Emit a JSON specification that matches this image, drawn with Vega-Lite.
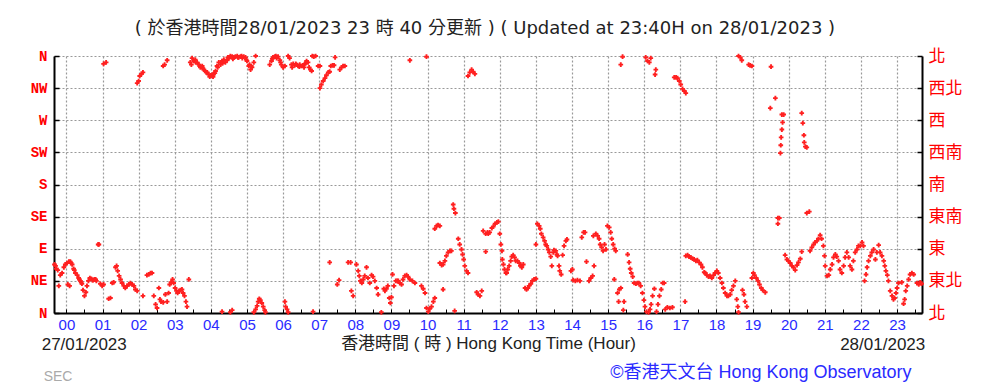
{
  "$schema": "https://vega.github.io/schema/vega-lite/v6.json",
  "width": 868,
  "height": 257,
  "autosize": {"type": "none"},
  "padding": {"left": 54, "top": 56, "right": 61, "bottom": 75},
  "background": "white",
  "config": {"view": {"stroke": null}, "font": "Liberation Sans, Noto Sans CJK TC", "axis": {"labelOverlap": false, "labelFlush": false}, "axisX": {"labelOverlap": false}, "axisQuantitative": {"labelOverlap": false}},
  "title": {
    "text": "( 於香港時間28/01/2023 23 時 40 分更新 ) ( Updated at 23:40H on 28/01/2023 )",
    "anchor": "middle", "fontSize": 18, "fontWeight": "normal", "color": "#222222",
    "font": "DejaVu Sans, Noto Sans CJK TC", "offset": 9, "dx": -3
  },
  "datasets": {
    "wind": [
      {"h":-0.33,"d":68},{"h":-0.30,"d":66},{"h":-0.28,"d":62},{"h":-0.24,"d":60},{"h":-0.21,"d":38},{"h":-0.17,"d":53},{"h":-0.12,"d":56},{"h":-0.07,"d":64},{"h":-0.03,"d":68},{"h":0.02,"d":70},{"h":0.04,"d":40},{"h":0.07,"d":72},{"h":0.09,"d":38},{"h":0.11,"d":72},{"h":0.13,"d":70},{"h":0.16,"d":68},{"h":0.20,"d":62},{"h":0.22,"d":60},{"h":0.25,"d":56},{"h":0.30,"d":53},{"h":0.34,"d":49},{"h":0.36,"d":47},{"h":0.39,"d":45},{"h":0.41,"d":43},{"h":0.43,"d":41},{"h":0.46,"d":32},{"h":0.50,"d":24},{"h":0.54,"d":29},{"h":0.57,"d":38},{"h":0.61,"d":45},{"h":0.65,"d":49},{"h":0.69,"d":48},{"h":0.72,"d":46},{"h":0.74,"d":46},{"h":0.78,"d":47},{"h":0.81,"d":47},{"h":0.83,"d":45},{"h":0.88,"d":96},{"h":0.90,"d":96},{"h":0.94,"d":41},{"h":0.99,"d":38},{"h":1.03,"d":40},
      {"h":1.17,"d":20},{"h":1.22,"d":21},{"h":1.27,"d":42},{"h":1.31,"d":43},{"h":1.36,"d":64},{"h":1.39,"d":66},{"h":1.42,"d":59},{"h":1.46,"d":52},{"h":1.50,"d":47},{"h":1.54,"d":42},{"h":1.59,"d":38},{"h":1.63,"d":35},{"h":1.68,"d":38},{"h":1.73,"d":40},{"h":1.77,"d":42},{"h":1.82,"d":40},{"h":1.87,"d":38},{"h":1.91,"d":33},{"h":1.96,"d":31},
      {"h":2.12,"d":24},{"h":2.23,"d":53},{"h":2.28,"d":54},{"h":2.33,"d":56},{"h":2.37,"d":56},{"h":2.42,"d":24},{"h":2.47,"d":12},{"h":2.51,"d":7},{"h":2.56,"d":35},{"h":2.59,"d":19},{"h":2.62,"d":16},{"h":2.68,"d":15},{"h":2.74,"d":26},{"h":2.79,"d":16},{"h":2.83,"d":28},{"h":2.86,"d":40},{"h":2.90,"d":43},{"h":2.94,"d":47},{"h":2.97,"d":42},{"h":3.01,"d":35},{"h":3.05,"d":31},{"h":3.08,"d":28},{"h":3.12,"d":31},{"h":3.16,"d":32},{"h":3.20,"d":33},{"h":3.23,"d":28},{"h":3.27,"d":24},{"h":3.31,"d":16},{"h":3.34,"d":9},{"h":3.39,"d":47},
      {"h":1.03,"d":349},{"h":1.10,"d":351},{"h":1.96,"d":322},{"h":2.00,"d":325},{"h":2.03,"d":332},{"h":2.08,"d":335},{"h":2.12,"d":337},{"h":2.68,"d":346},{"h":2.72,"d":348},{"h":2.79,"d":354},
      {"h":3.43,"d":351},{"h":3.46,"d":348},{"h":3.48,"d":357},{"h":3.53,"d":353},{"h":3.57,"d":355},{"h":3.58,"d":351},{"h":3.62,"d":351},{"h":3.67,"d":348},{"h":3.69,"d":346},{"h":3.71,"d":344},{"h":3.76,"d":346},{"h":3.78,"d":343},{"h":3.80,"d":341},{"h":3.85,"d":339},{"h":3.87,"d":337},{"h":3.90,"d":337},{"h":3.94,"d":334},{"h":3.97,"d":331},{"h":3.99,"d":333},{"h":4.04,"d":334},{"h":4.06,"d":331},{"h":4.08,"d":335},{"h":4.11,"d":336},{"h":4.13,"d":339},{"h":4.17,"d":346},{"h":4.19,"d":344},{"h":4.22,"d":351},{"h":4.27,"d":348},{"h":4.31,"d":353},{"h":4.33,"d":350},{"h":4.36,"d":355},{"h":4.40,"d":351},{"h":4.45,"d":354},{"h":4.47,"d":358},{"h":4.50,"d":357},{"h":4.54,"d":360},{"h":4.59,"d":359},{"h":4.61,"d":356},{"h":4.64,"d":358},{"h":4.68,"d":359},{"h":4.73,"d":360},{"h":4.75,"d":358},{"h":4.77,"d":358},{"h":4.82,"d":359},{"h":4.85,"d":360},{"h":4.87,"d":357},{"h":4.91,"d":359},{"h":4.96,"d":358},{"h":4.98,"d":355},{"h":5.00,"d":353},{"h":5.05,"d":346},{"h":5.07,"d":348},{"h":5.10,"d":341},{"h":5.12,"d":346},{"h":5.14,"d":344},{"h":5.19,"d":351},{"h":5.24,"d":360},
      {"h":4.31,"d":2},{"h":4.54,"d":1},{"h":4.59,"d":4},{"h":5.19,"d":1},{"h":5.24,"d":5},{"h":5.28,"d":10},{"h":5.31,"d":16},{"h":5.34,"d":20},{"h":5.37,"d":18},{"h":5.41,"d":14},{"h":5.45,"d":9},{"h":5.49,"d":4},{"h":5.51,"d":1},
      {"h":5.63,"d":348},{"h":5.68,"d":353},{"h":5.70,"d":356},{"h":5.72,"d":358},{"h":5.77,"d":359},{"h":5.80,"d":360},{"h":5.82,"d":357},{"h":5.86,"d":359},{"h":5.91,"d":354},{"h":5.93,"d":351},{"h":5.95,"d":348},{"h":6.00,"d":344},{"h":6.05,"d":346},{"h":6.14,"d":360},{"h":6.18,"d":357},{"h":6.23,"d":348},{"h":6.25,"d":344},{"h":6.28,"d":349},{"h":6.32,"d":347},{"h":6.35,"d":349},{"h":6.37,"d":348},{"h":6.42,"d":346},{"h":6.45,"d":345},{"h":6.46,"d":348},{"h":6.51,"d":346},{"h":6.55,"d":347},{"h":6.58,"d":344},{"h":6.60,"d":349},{"h":6.63,"d":350},{"h":6.65,"d":353},{"h":6.69,"d":351},{"h":6.72,"d":344},{"h":6.76,"d":341},{"h":6.79,"d":339},{"h":6.81,"d":360},{"h":6.85,"d":359},{"h":6.90,"d":360},{"h":6.97,"d":346},{"h":7.02,"d":346},
      {"h":7.02,"d":315},{"h":7.06,"d":320},{"h":7.11,"d":325},{"h":7.16,"d":329},{"h":7.20,"d":333},{"h":7.25,"d":337},{"h":7.29,"d":338},{"h":7.32,"d":346},{"h":7.37,"d":347},{"h":7.41,"d":347},{"h":7.44,"d":358},{"h":7.57,"d":341},{"h":7.62,"d":344},{"h":7.66,"d":346},{"h":7.71,"d":346},{"h":9.51,"d":354},{"h":9.97,"d":359},{"h":11.12,"d":332},{"h":11.17,"d":337},{"h":11.22,"d":341},{"h":11.26,"d":338},{"h":11.31,"d":335},
      {"h":6.05,"d":16},{"h":6.07,"d":9},{"h":6.11,"d":5},{"h":6.14,"d":1},{"h":6.83,"d":2},{"h":7.29,"d":71},{"h":7.50,"d":40},{"h":7.55,"d":46},{"h":7.80,"d":71},{"h":7.87,"d":71},{"h":7.89,"d":31},{"h":7.94,"d":24},{"h":8.03,"d":68},{"h":8.08,"d":59},{"h":8.11,"d":52},{"h":8.14,"d":45},{"h":8.18,"d":42},{"h":8.22,"d":47},{"h":8.26,"d":52},{"h":8.31,"d":64},{"h":8.35,"d":49},{"h":8.40,"d":42},{"h":8.45,"d":53},{"h":8.49,"d":51},{"h":8.54,"d":45},{"h":8.59,"d":35},{"h":8.63,"d":26},{"h":8.72,"d":1},{"h":8.79,"d":34},{"h":8.82,"d":31},{"h":8.86,"d":34},{"h":8.90,"d":38},{"h":8.94,"d":21},{"h":8.97,"d":14},{"h":9.00,"d":22},{"h":9.03,"d":54},{"h":9.07,"d":38},{"h":9.12,"d":45},{"h":9.16,"d":45},{"h":9.19,"d":45},{"h":9.23,"d":42},{"h":9.28,"d":40},{"h":9.32,"d":47},{"h":9.37,"d":52},{"h":9.42,"d":53},{"h":9.46,"d":51},{"h":9.51,"d":47},{"h":9.58,"d":45},{"h":9.65,"d":42},{"h":9.83,"d":38},{"h":9.88,"d":34},{"h":9.93,"d":28},{"h":9.97,"d":7},{"h":10.02,"d":2},{"h":10.06,"d":6},{"h":10.11,"d":9},{"h":10.16,"d":16},{"h":10.20,"d":21},{"h":10.43,"d":33},{"h":10.75,"d":3},
      {"h":10.20,"d":118},{"h":10.25,"d":122},{"h":10.29,"d":123},{"h":10.34,"d":122},{"h":10.34,"d":70},{"h":10.39,"d":67},{"h":10.43,"d":68},{"h":10.48,"d":73},{"h":10.52,"d":80},{"h":10.57,"d":85},{"h":10.62,"d":87},{"h":10.66,"d":87},{"h":10.71,"d":152},{"h":10.73,"d":146},{"h":10.77,"d":140},{"h":10.85,"d":104},{"h":10.89,"d":96},{"h":10.94,"d":89},{"h":10.97,"d":82},{"h":11.00,"d":75},{"h":11.03,"d":66},{"h":11.08,"d":59},{"h":11.12,"d":56},{"h":11.36,"d":29},{"h":11.40,"d":26},{"h":11.45,"d":24},{"h":11.50,"d":31},{"h":11.54,"d":115},{"h":11.61,"d":111},{"h":11.68,"d":111},{"h":11.61,"d":86},
      {"h":11.66,"d":113},{"h":11.72,"d":113},{"h":11.78,"d":119},{"h":11.82,"d":121},{"h":11.87,"d":125},{"h":11.92,"d":127},{"h":11.96,"d":128},{"h":12.00,"d":111},{"h":12.03,"d":96},{"h":12.06,"d":87},{"h":12.07,"d":75},{"h":12.10,"d":68},{"h":12.13,"d":61},{"h":12.17,"d":56},{"h":12.19,"d":56},{"h":12.22,"d":61},{"h":12.26,"d":66},{"h":12.30,"d":73},{"h":12.33,"d":79},{"h":12.37,"d":81},{"h":12.41,"d":78},{"h":12.44,"d":73},{"h":12.49,"d":73},{"h":12.54,"d":70},{"h":12.57,"d":66},{"h":12.61,"d":64},{"h":12.65,"d":68},
      {"h":12.70,"d":35},{"h":12.74,"d":33},{"h":12.78,"d":35},{"h":12.81,"d":38},{"h":12.86,"d":41},{"h":12.90,"d":45},{"h":12.95,"d":47},{"h":13.00,"d":48},{"h":13.00,"d":96},
      {"h":13.04,"d":125},{"h":13.09,"d":122},{"h":13.12,"d":118},{"h":13.15,"d":111},{"h":13.20,"d":106},{"h":13.24,"d":101},{"h":13.27,"d":96},{"h":13.30,"d":94},{"h":13.34,"d":89},{"h":13.37,"d":85},{"h":13.41,"d":79},{"h":13.44,"d":66},{"h":13.48,"d":85},{"h":13.50,"d":88},{"h":13.55,"d":87},{"h":13.58,"d":82},{"h":13.60,"d":80},{"h":13.64,"d":66},{"h":13.66,"d":59},{"h":13.70,"d":54},{"h":13.74,"d":81},{"h":13.78,"d":94},{"h":13.83,"d":101},{"h":13.86,"d":103},
      {"h":13.97,"d":59},{"h":14.01,"d":61},{"h":14.03,"d":46},{"h":14.09,"d":45},{"h":14.15,"d":46},{"h":14.22,"d":45},{"h":14.27,"d":106},{"h":14.32,"d":113},{"h":14.36,"d":113},{"h":14.40,"d":72},{"h":14.47,"d":45},{"h":14.52,"d":49},{"h":14.57,"d":52},{"h":14.61,"d":66},
      {"h":14.59,"d":108},{"h":14.66,"d":111},{"h":14.71,"d":108},{"h":14.75,"d":104},{"h":14.78,"d":96},{"h":14.82,"d":92},{"h":14.86,"d":87},{"h":14.90,"d":96},{"h":14.94,"d":89},{"h":14.98,"d":122},{"h":15.03,"d":120},{"h":15.07,"d":113},{"h":15.10,"d":104},{"h":15.14,"d":96},{"h":15.18,"d":90},{"h":15.21,"d":87},
      {"h":15.17,"d":47},{"h":15.26,"d":28},{"h":15.31,"d":33},{"h":15.35,"d":35},{"h":15.29,"d":16},{"h":15.44,"d":16},{"h":15.42,"d":4},{"h":15.35,"d":348},{"h":15.40,"d":359},
      {"h":15.54,"d":82},{"h":15.58,"d":71},{"h":15.61,"d":62},{"h":15.64,"d":56},{"h":15.68,"d":51},{"h":15.72,"d":42},{"h":15.77,"d":41},{"h":15.81,"d":42},{"h":15.85,"d":42},{"h":15.90,"d":38},{"h":15.95,"d":28},{"h":15.99,"d":18},{"h":16.02,"d":9},{"h":16.06,"d":2},
      {"h":16.04,"d":358},{"h":16.09,"d":353},{"h":16.14,"d":351},{"h":16.18,"d":357},{"h":16.32,"d":341},{"h":16.30,"d":334},
      {"h":16.12,"d":1},{"h":16.16,"d":5},{"h":16.19,"d":12},{"h":16.23,"d":24},{"h":16.28,"d":34},{"h":16.34,"d":2},{"h":16.38,"d":12},{"h":16.42,"d":24},{"h":16.47,"d":33},{"h":16.51,"d":42},{"h":16.55,"d":42},{"h":16.58,"d":5},{"h":16.64,"d":8},{"h":16.71,"d":7},{"h":16.78,"d":8},
      {"h":16.83,"d":330},{"h":16.88,"d":330},{"h":16.92,"d":329},{"h":16.97,"d":325},{"h":17.01,"d":320},{"h":17.06,"d":314},{"h":17.11,"d":311},{"h":17.15,"d":308},
      {"h":17.13,"d":16},{"h":17.15,"d":80},{"h":17.20,"d":81},{"h":17.24,"d":79},{"h":17.29,"d":78},{"h":17.34,"d":76},{"h":17.38,"d":75},{"h":17.43,"d":73},{"h":17.47,"d":74},{"h":17.52,"d":71},{"h":17.57,"d":68},{"h":17.61,"d":64},{"h":17.66,"d":57},
      {"h":17.69,"d":56},{"h":17.73,"d":53},{"h":17.78,"d":51},{"h":17.82,"d":52},{"h":17.87,"d":49},{"h":17.92,"d":53},{"h":17.96,"d":56},{"h":18.01,"d":59},{"h":18.05,"d":56},{"h":18.10,"d":49},{"h":18.15,"d":42},{"h":18.19,"d":35},{"h":18.24,"d":28},{"h":18.29,"d":24},{"h":18.33,"d":24},{"h":18.38,"d":26},{"h":18.42,"d":32},{"h":18.47,"d":38},{"h":18.52,"d":45},
      {"h":18.56,"d":19},{"h":18.59,"d":9},{"h":18.61,"d":1},{"h":18.72,"d":32},{"h":18.76,"d":26},{"h":18.79,"d":16},{"h":18.84,"d":9},
      {"h":18.61,"d":360},{"h":18.66,"d":358},{"h":18.70,"d":354},{"h":18.89,"d":348},{"h":18.93,"d":347},{"h":18.98,"d":346},{"h":19.51,"d":345},{"h":19.63,"d":301},{"h":19.49,"d":287},{"h":19.81,"d":278},{"h":19.86,"d":278},{"h":19.83,"d":267},{"h":19.81,"d":257},{"h":19.79,"d":246},{"h":19.78,"d":235},{"h":19.77,"d":224},{"h":20.36,"d":280},{"h":20.39,"d":266},{"h":20.42,"d":249},{"h":20.43,"d":239},{"h":20.46,"d":233},{"h":20.50,"d":232},{"h":19.70,"d":133},{"h":19.74,"d":133},{"h":19.70,"d":125},{"h":20.50,"d":140},{"h":20.57,"d":142},
      {"h":18.98,"d":49},{"h":19.02,"d":56},{"h":19.05,"d":53},{"h":19.10,"d":49},{"h":19.15,"d":45},{"h":19.19,"d":40},{"h":19.24,"d":35},{"h":19.28,"d":32},{"h":19.35,"d":29},
      {"h":19.90,"d":81},{"h":19.95,"d":75},{"h":19.99,"d":73},{"h":20.04,"d":70},{"h":20.09,"d":66},{"h":20.13,"d":64},{"h":20.18,"d":60},{"h":20.23,"d":67},{"h":20.27,"d":71},{"h":20.32,"d":76},{"h":20.36,"d":86},
      {"h":20.59,"d":87},{"h":20.64,"d":92},{"h":20.69,"d":96},{"h":20.73,"d":99},{"h":20.78,"d":101},{"h":20.82,"d":104},{"h":20.87,"d":109},{"h":20.91,"d":104},{"h":20.96,"d":94},{"h":20.99,"d":80},{"h":21.01,"d":66},
      {"h":21.06,"d":52},{"h":21.11,"d":53},{"h":21.15,"d":61},{"h":21.20,"d":68},{"h":21.24,"d":78},{"h":21.29,"d":82},{"h":21.33,"d":79},{"h":21.38,"d":73},{"h":21.42,"d":61},{"h":21.47,"d":56},{"h":21.52,"d":66},{"h":21.56,"d":78},{"h":21.61,"d":85},{"h":21.66,"d":78},{"h":21.70,"d":66},{"h":21.75,"d":61},{"h":21.79,"d":73},{"h":21.84,"d":85},{"h":21.89,"d":89},{"h":21.93,"d":94},{"h":21.98,"d":94},{"h":22.03,"d":99},{"h":22.07,"d":94},
      {"h":22.10,"d":45},{"h":22.14,"d":54},{"h":22.17,"d":64},{"h":22.21,"d":73},{"h":22.26,"d":80},{"h":22.30,"d":85},{"h":22.35,"d":89},{"h":22.40,"d":75},{"h":22.44,"d":85},{"h":22.49,"d":95},{"h":22.53,"d":85},{"h":22.58,"d":80},{"h":22.63,"d":73},{"h":22.66,"d":66},{"h":22.69,"d":59},{"h":22.73,"d":53},{"h":22.76,"d":45},
      {"h":22.81,"d":31},{"h":22.86,"d":24},{"h":22.90,"d":19},{"h":22.93,"d":21},{"h":22.97,"d":28},{"h":23.00,"d":35},{"h":23.04,"d":42},{"h":23.13,"d":43},{"h":23.18,"d":13},{"h":23.21,"d":19},{"h":23.24,"d":31},{"h":23.28,"d":38},{"h":23.32,"d":47},{"h":23.36,"d":54},{"h":23.41,"d":56},{"h":23.46,"d":54},{"h":23.55,"d":42},{"h":23.60,"d":40},{"h":23.64,"d":43},{"h":23.68,"d":41}
    ],
    "notes": [
      {"h": -0.684, "d": -44.3, "label": "27/01/2023", "kind": "dateL"},
      {"h": 23.78, "d": -44.3, "label": "28/01/2023", "kind": "dateR"},
      {"h": -0.63, "d": -89.1, "label": "SEC", "kind": "sec"},
      {"h": 23.40, "d": -83.5, "label": "©香港天文台 Hong Kong Observatory", "kind": "copy"}
    ]
  },
  "layer": [
    {
      "data": {"name": "wind"},
      "mark": {"type": "point", "shape": "cross", "filled": true, "size": 22, "color": "#ff2020", "opacity": 1},
      "encoding": {
        "x": {
          "field": "h", "type": "quantitative",
          "scale": {"domain": [-0.343, 23.69], "nice": false, "zero": false},
          "axis": {
            "values": [0,0.5,1,1.5,2,2.5,3,3.5,4,4.5,5,5.5,6,6.5,7,7.5,8,8.5,9,9.5,10,10.5,11,11.5,12,12.5,13,13.5,14,14.5,15,15.5,16,16.5,17,17.5,18,18.5,19,19.5,20,20.5,21,21.5,22,22.5,23,23.5],
            "labelExpr": "datum.value % 1 === 0 ? (datum.value < 10 ? '0' + datum.value : '' + datum.value) : ''",
            "labelColor": "#2a2aff", "labelFontSize": 15, "labelFont": "Liberation Sans",
            "labelFlush": false, "labelOverlap": false, "labelPadding": 8, "labelSeparation": 0, "labelDx": -2, "labelBound": false,
            "tickSize": -4, "tickColor": "black", "tickWidth": 1,
            "domainColor": "black", "domainWidth": 2,
            "grid": true, "gridColor": "#999999", "gridDash": [2, 2], "gridWidth": 1.2,
            "gridOpacity": {"condition": {"test": "datum.value % 1 !== 0", "value": 0}, "value": 1},
            "title": "香港時間 ( 時 ) Hong Kong Time (Hour)",
            "titleFont": "Liberation Sans, Noto Sans CJK TC", "titleFontSize": 17, "titleFontWeight": "normal",
            "titleColor": "#222222", "titlePadding": 3
          }
        },
        "y": {
          "field": "d", "type": "quantitative",
          "scale": {"domain": [0, 360], "nice": false, "zero": false},
          "axis": {
            "values": [0,45,90,135,180,225,270,315,360],
            "labelExpr": "['N','NE','E','SE','S','SW','W','NW','N'][round(datum.value/45)]",
            "labelColor": "#ff0000", "labelFont": "Liberation Mono", "labelFontSize": 14, "labelFontWeight": "bold",
            "labelFlush": false, "labelOverlap": false, "labelPadding": 12,
            "tickSize": -5, "tickColor": "black", "tickWidth": 1.5,
            "domainColor": "black", "domainWidth": 2,
            "grid": true, "gridColor": "#999999", "gridDash": [2, 2], "gridWidth": 1.2,
            "title": null
          }
        }
      }
    },
    {
      "data": {"name": "notes"},
      "transform": [{"filter": "datum.kind === 'dateL'"}],
      "mark": {"type": "text", "align": "left", "baseline": "middle", "fontSize": 17, "color": "#222222", "font": "Liberation Sans, Noto Sans CJK TC"},
      "encoding": {
        "x": {
          "field": "h", "type": "quantitative",
          "scale": {"domain": [-0.343, 23.69], "nice": false, "zero": false},
          "axis": {
            "values": [0,0.5,1,1.5,2,2.5,3,3.5,4,4.5,5,5.5,6,6.5,7,7.5,8,8.5,9,9.5,10,10.5,11,11.5,12,12.5,13,13.5,14,14.5,15,15.5,16,16.5,17,17.5,18,18.5,19,19.5,20,20.5,21,21.5,22,22.5,23,23.5],
            "labelExpr": "datum.value % 1 === 0 ? (datum.value < 10 ? '0' + datum.value : '' + datum.value) : ''",
            "labelColor": "#2a2aff", "labelFontSize": 15, "labelFont": "Liberation Sans",
            "labelFlush": false, "labelOverlap": false, "labelPadding": 8, "labelSeparation": 0, "labelDx": -2, "labelBound": false,
            "tickSize": -4, "tickColor": "black", "tickWidth": 1,
            "domainColor": "black", "domainWidth": 2,
            "grid": true, "gridColor": "#999999", "gridDash": [2, 2], "gridWidth": 1.2,
            "gridOpacity": {"condition": {"test": "datum.value % 1 !== 0", "value": 0}, "value": 1},
            "title": "香港時間 ( 時 ) Hong Kong Time (Hour)",
            "titleFont": "Liberation Sans, Noto Sans CJK TC", "titleFontSize": 17, "titleFontWeight": "normal",
            "titleColor": "#222222", "titlePadding": 3
          }
        },
        "y": {
          "field": "d", "type": "quantitative",
          "scale": {"domain": [0, 360], "nice": false, "zero": false},
          "axis": {
            "orient": "right",
            "values": [0,45,90,135,180,225,270,315,360],
            "labelExpr": "['北','東北','東','東南','南','西南','西','西北','北'][round(datum.value/45)]",
            "labelColor": "#ff0000", "labelFont": "Noto Sans CJK TC", "labelFontSize": 17,
            "labelFlush": false, "labelOverlap": false, "labelPadding": 11,
            "tickSize": -5, "tickColor": "black", "tickWidth": 1.5,
            "domainColor": "black", "domainWidth": 2, "grid": false, "title": null
          }
        },
        "text": {"field": "label"}
      }
    },
    {
      "data": {"name": "notes"},
      "transform": [{"filter": "datum.kind === 'dateR'"}],
      "mark": {"type": "text", "align": "right", "baseline": "middle", "fontSize": 17, "color": "#222222", "font": "Liberation Sans, Noto Sans CJK TC"},
      "encoding": {
        "x": {
          "field": "h", "type": "quantitative",
          "scale": {"domain": [-0.343, 23.69], "nice": false, "zero": false},
          "axis": {
            "values": [0,0.5,1,1.5,2,2.5,3,3.5,4,4.5,5,5.5,6,6.5,7,7.5,8,8.5,9,9.5,10,10.5,11,11.5,12,12.5,13,13.5,14,14.5,15,15.5,16,16.5,17,17.5,18,18.5,19,19.5,20,20.5,21,21.5,22,22.5,23,23.5],
            "labelExpr": "datum.value % 1 === 0 ? (datum.value < 10 ? '0' + datum.value : '' + datum.value) : ''",
            "labelColor": "#2a2aff", "labelFontSize": 15, "labelFont": "Liberation Sans",
            "labelFlush": false, "labelOverlap": false, "labelPadding": 8, "labelSeparation": 0, "labelDx": -2, "labelBound": false,
            "tickSize": -4, "tickColor": "black", "tickWidth": 1,
            "domainColor": "black", "domainWidth": 2,
            "grid": true, "gridColor": "#999999", "gridDash": [2, 2], "gridWidth": 1.2,
            "gridOpacity": {"condition": {"test": "datum.value % 1 !== 0", "value": 0}, "value": 1},
            "title": "香港時間 ( 時 ) Hong Kong Time (Hour)",
            "titleFont": "Liberation Sans, Noto Sans CJK TC", "titleFontSize": 17, "titleFontWeight": "normal",
            "titleColor": "#222222", "titlePadding": 3
          }
        },
        "y": {"field": "d", "type": "quantitative", "scale": {"domain": [0, 360], "nice": false, "zero": false}, "axis": null},
        "text": {"field": "label"}
      }
    },
    {
      "data": {"name": "notes"},
      "transform": [{"filter": "datum.kind === 'sec'"}],
      "mark": {"type": "text", "align": "left", "baseline": "middle", "fontSize": 14, "color": "#aaaaaa", "font": "Liberation Sans"},
      "encoding": {
        "x": {
          "field": "h", "type": "quantitative",
          "scale": {"domain": [-0.343, 23.69], "nice": false, "zero": false},
          "axis": {
            "values": [0,0.5,1,1.5,2,2.5,3,3.5,4,4.5,5,5.5,6,6.5,7,7.5,8,8.5,9,9.5,10,10.5,11,11.5,12,12.5,13,13.5,14,14.5,15,15.5,16,16.5,17,17.5,18,18.5,19,19.5,20,20.5,21,21.5,22,22.5,23,23.5],
            "labelExpr": "datum.value % 1 === 0 ? (datum.value < 10 ? '0' + datum.value : '' + datum.value) : ''",
            "labelColor": "#2a2aff", "labelFontSize": 15, "labelFont": "Liberation Sans",
            "labelFlush": false, "labelOverlap": false, "labelPadding": 8, "labelSeparation": 0, "labelDx": -2, "labelBound": false,
            "tickSize": -4, "tickColor": "black", "tickWidth": 1,
            "domainColor": "black", "domainWidth": 2,
            "grid": true, "gridColor": "#999999", "gridDash": [2, 2], "gridWidth": 1.2,
            "gridOpacity": {"condition": {"test": "datum.value % 1 !== 0", "value": 0}, "value": 1},
            "title": "香港時間 ( 時 ) Hong Kong Time (Hour)",
            "titleFont": "Liberation Sans, Noto Sans CJK TC", "titleFontSize": 17, "titleFontWeight": "normal",
            "titleColor": "#222222", "titlePadding": 3
          }
        },
        "y": {"field": "d", "type": "quantitative", "scale": {"domain": [0, 360], "nice": false, "zero": false}, "axis": null},
        "text": {"field": "label"}
      }
    },
    {
      "data": {"name": "notes"},
      "transform": [{"filter": "datum.kind === 'copy'"}],
      "mark": {"type": "text", "align": "right", "baseline": "middle", "fontSize": 18, "color": "#2a2aff", "font": "Liberation Sans, Noto Sans CJK TC"},
      "encoding": {
        "x": {
          "field": "h", "type": "quantitative",
          "scale": {"domain": [-0.343, 23.69], "nice": false, "zero": false},
          "axis": {
            "values": [0,0.5,1,1.5,2,2.5,3,3.5,4,4.5,5,5.5,6,6.5,7,7.5,8,8.5,9,9.5,10,10.5,11,11.5,12,12.5,13,13.5,14,14.5,15,15.5,16,16.5,17,17.5,18,18.5,19,19.5,20,20.5,21,21.5,22,22.5,23,23.5],
            "labelExpr": "datum.value % 1 === 0 ? (datum.value < 10 ? '0' + datum.value : '' + datum.value) : ''",
            "labelColor": "#2a2aff", "labelFontSize": 15, "labelFont": "Liberation Sans",
            "labelFlush": false, "labelOverlap": false, "labelPadding": 8, "labelSeparation": 0, "labelDx": -2, "labelBound": false,
            "tickSize": -4, "tickColor": "black", "tickWidth": 1,
            "domainColor": "black", "domainWidth": 2,
            "grid": true, "gridColor": "#999999", "gridDash": [2, 2], "gridWidth": 1.2,
            "gridOpacity": {"condition": {"test": "datum.value % 1 !== 0", "value": 0}, "value": 1},
            "title": "香港時間 ( 時 ) Hong Kong Time (Hour)",
            "titleFont": "Liberation Sans, Noto Sans CJK TC", "titleFontSize": 17, "titleFontWeight": "normal",
            "titleColor": "#222222", "titlePadding": 3
          }
        },
        "y": {"field": "d", "type": "quantitative", "scale": {"domain": [0, 360], "nice": false, "zero": false}, "axis": null},
        "text": {"field": "label"}
      }
    }
  ],
  "resolve": {"axis": {"y": "independent"}}
}
